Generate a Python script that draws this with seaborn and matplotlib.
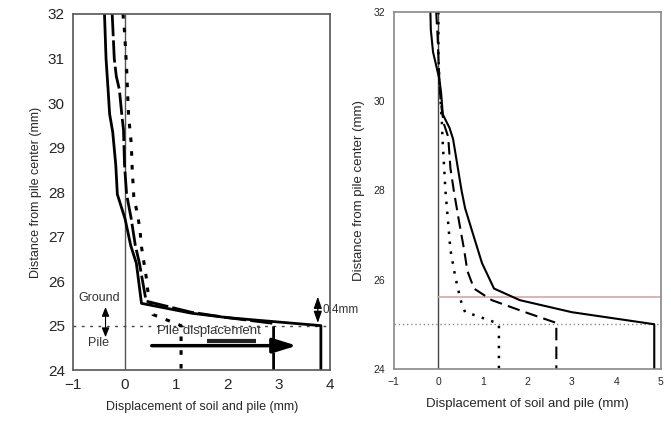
import matplotlib
matplotlib.use("Agg")
import matplotlib.pyplot as plt
import seaborn as sns
import pandas as pd

# ---------------- data ----------------
# Left panel
L_solid_x = [-0.39, -0.36, -0.32, -0.29, -0.23, -0.17, -0.14, 0.01, 0.12, 0.23, 0.33, 1.30, 2.00, 2.60, 3.82, 3.82]
L_solid_y = [32.0, 31.0, 30.3, 29.75, 29.35, 28.6, 27.95, 27.4, 26.8, 26.4, 25.5, 25.28, 25.18, 25.12, 25.0, 24.0]

L_dash_x = [-0.24, -0.20, -0.16, -0.10, -0.05, -0.02, 0.0, 0.04, 0.13, 0.21, 0.29, 0.42, 1.30, 2.00, 2.90, 2.90]
L_dash_y = [32.0, 31.0, 30.6, 30.3, 29.7, 29.4, 28.6, 27.95, 27.4, 26.8, 26.4, 25.55, 25.3, 25.18, 25.05, 24.0]

L_dot_x = [-0.03, 0.0, 0.04, 0.06, 0.08, 0.13, 0.15, 0.18, 0.26, 0.30, 0.33, 0.38, 0.43, 0.46, 0.55, 0.84, 1.10, 1.10]
L_dot_y = [32.0, 31.6, 30.8, 30.2, 29.7, 29.1, 28.5, 27.9, 27.45, 27.15, 26.77, 26.4, 26.03, 25.7, 25.25, 25.12, 25.0, 24.0]

L_xticks = [-1, 0, 1, 2, 3, 4]
L_yticks = [24, 25, 26, 27, 28, 29, 30, 31, 32]

# Right panel
R_solid_x = [-0.18, -0.17, -0.12, -0.05, 0.02, 0.06, 0.10, 0.25, 0.33, 0.52, 0.60, 0.80, 0.98, 1.25, 1.83, 3.00, 4.85, 4.85]
R_solid_y = [32.0, 31.6, 31.1, 30.8, 30.5, 30.2, 29.7, 29.4, 29.15, 28.0, 27.6, 26.95, 26.37, 25.8, 25.54, 25.27, 25.0, 24.0]

R_dash_x = [-0.05, -0.02, 0.0, 0.02, 0.05, 0.12, 0.22, 0.27, 0.35, 0.47, 0.58, 0.65, 0.80, 1.20, 1.95, 2.65, 2.65]
R_dash_y = [32.0, 31.5, 31.0, 30.5, 30.0, 29.5, 29.2, 28.5, 27.97, 27.27, 26.66, 26.2, 25.8, 25.54, 25.27, 25.03, 24.0]

R_dot_x = [0.0, 0.0, 0.02, 0.05, 0.08, 0.09, 0.13, 0.16, 0.22, 0.27, 0.38, 0.50, 0.60, 0.83, 1.25, 1.36, 1.36]
R_dot_y = [32.0, 31.0, 30.5, 30.0, 29.5, 29.2, 28.5, 27.97, 27.27, 26.67, 26.06, 25.54, 25.27, 25.2, 25.05, 25.0, 24.0]

R_xticks = [-1, 0, 1, 2, 3, 4, 5]
R_yticks = [24, 26, 28, 30, 32]

xlabel = "Displacement of soil and pile (mm)"
ylabel = "Distance from pile center (mm)"

# ---------------- style ----------------
sns.set_style("white")
plt.rcParams["font.family"] = ["Liberation Sans", "DejaVu Sans"]

fig = plt.figure(figsize=(6.71, 4.24), dpi=100)
ax1 = fig.add_axes([0.109, 0.127, 0.383, 0.840])
ax2 = fig.add_axes([0.587, 0.130, 0.398, 0.842])


def draw(ax, xs, ys, **kw):
    df = pd.DataFrame({"x": xs, "y": ys})
    sns.lineplot(data=df, x="x", y="y", sort=False, estimator=None, ax=ax,
                 color="black", **kw)


# ----- left panel -----
ax1.axvline(0, color="#555555", lw=1.0, zorder=1)
ax1.axhline(25, color="#444444", lw=1.0, ls=(0, (2, 4)), zorder=1)
draw(ax1, L_solid_x, L_solid_y, lw=2.0)
draw(ax1, L_dash_x, L_dash_y, lw=2.0, dashes=(8, 1.5))
draw(ax1, L_dot_x, L_dot_y, lw=2.2, dashes=(1.5, 3))

ax1.set_xlim(-1, 4)
ax1.set_ylim(24, 32)
ax1.set_xticks(L_xticks)
ax1.set_yticks(L_yticks)
ax1.set_xticklabels(["\u22121", "0", "1", "2", "3", "4"])
ax1.tick_params(direction="in", length=4, labelsize=11, color="#555555", pad=6)
ax1.set_xlabel(xlabel, fontsize=9, labelpad=6)
ax1.set_ylabel(ylabel, fontsize=9, labelpad=4)
for s in ax1.spines.values():
    s.set_color("#555555")
    s.set_linewidth(1.2)

# annotations
ax1.text(-0.5, 25.63, "Ground", fontsize=9, ha="center", va="center", color="#333333")
ax1.text(-0.5, 24.6, "Pile", fontsize=9, ha="center", va="center", color="#333333")
ax1.annotate("", xy=(-0.37, 25.42), xytext=(-0.37, 24.74),
             arrowprops=dict(arrowstyle="<|-|>,head_length=0.8,head_width=0.32",
                             color="black", lw=0.8, mutation_scale=7,
                             shrinkA=0, shrinkB=0))
ax1.text(1.65, 24.88, "Pile displacement", fontsize=9.5, ha="center", va="center", color="#333333")
ax1.plot([1.6, 2.55], [24.66, 24.66], color="#222222", lw=3, solid_capstyle="butt")
ax1.annotate("", xy=(3.35, 24.55), xytext=(0.53, 24.55),
             arrowprops=dict(arrowstyle="-|>,head_length=0.9,head_width=0.28",
                             color="black", lw=2.5, mutation_scale=16,
                             shrinkA=0, shrinkB=0))
ax1.annotate("", xy=(3.76, 25.65), xytext=(3.76, 25.06),
             arrowprops=dict(arrowstyle="<|-|>,head_length=1.0,head_width=0.35",
                             color="black", lw=0.9, mutation_scale=7,
                             shrinkA=0, shrinkB=0),
             annotation_clip=False)
ax1.text(3.86, 25.35, "0.4mm", fontsize=8.5, ha="left", va="center", color="#333333",
         clip_on=False)

# ----- right panel -----
ax2.axvline(0, color="#444444", lw=1.0, zorder=1)
ax2.axhline(25, color="#888888", lw=1.0, ls=(0, (1, 2)), zorder=1)
ax2.plot([0, 5], [25.6, 25.6], color="#d9a6a6", lw=1.2, zorder=1)
draw(ax2, R_solid_x, R_solid_y, lw=1.5)
draw(ax2, R_dash_x, R_dash_y, lw=1.5, dashes=(6, 3))
draw(ax2, R_dot_x, R_dot_y, lw=1.8, dashes=(1, 3))

ax2.set_xlim(-1, 5)
ax2.set_ylim(24, 32)
ax2.set_xticks(R_xticks)
ax2.set_yticks(R_yticks)
ax2.set_xticklabels(["\u22121", "0", "1", "2", "3", "4", "5"])
ax2.tick_params(direction="in", length=4, labelsize=7.5, color="#777777", pad=6)
ax2.set_xlabel(xlabel, fontsize=9.5, labelpad=8)
ax2.set_ylabel(ylabel, fontsize=9.5, labelpad=6)
for s in ax2.spines.values():
    s.set_color("#888888")
    s.set_linewidth(1.2)

fig.savefig("out.png", dpi=100)
